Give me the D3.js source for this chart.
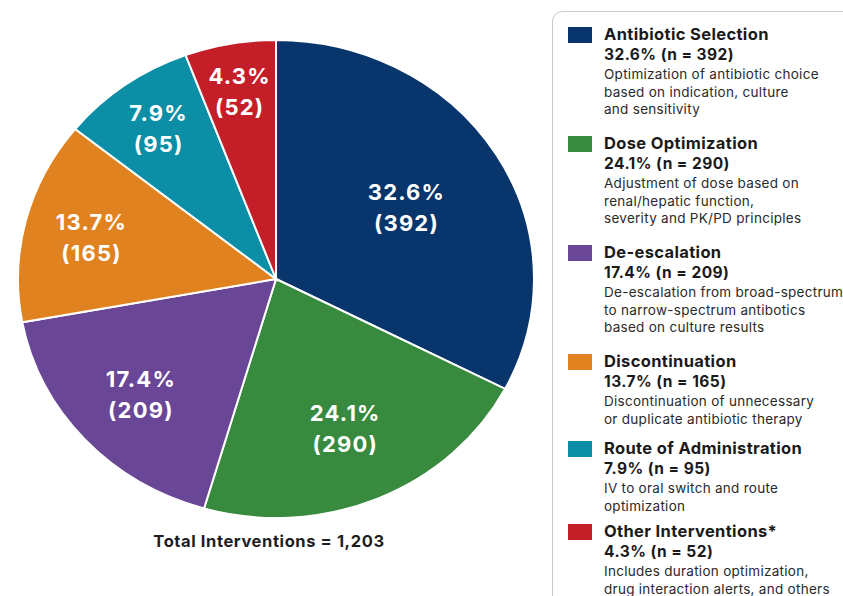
<!DOCTYPE html>
<html>
<head>
<meta charset="utf-8">
<script src="https://cdn.jsdelivr.net/npm/d3@7"></script>
<style>
  body { margin: 0; background: #fff; }
  svg { display: block; font-family: Inter, sans-serif; }
</style>
</head>
<body>
<script>
// Chart data
const categories = ["Antibiotic Selection", "Dose Optimization", "De-escalation",
  "Discontinuation", "Route of Administration", "Other Interventions*"];
const counts = [392, 290, 209, 165, 95, 52];
const percents = [32.6, 24.1, 17.4, 13.7, 7.9, 4.3];
// share of the circle each slice takes as drawn in the picture (%)
const sliceShares = [32.6, 21.9, 17.6, 13.7, 8.5, 5.7];
const descriptions = [
  ["Optimization of antibiotic choice", "based on indication, culture", "and sensitivity"],
  ["Adjustment of dose based on", "renal/hepatic function,", "severity and PK/PD principles"],
  ["De-escalation from broad-spectrum", "to narrow-spectrum antibotics", "based on culture results"],
  ["Discontinuation of unnecessary", "or duplicate antibiotic therapy"],
  ["IV to oral switch and route", "optimization"],
  ["Includes duration optimization,", "drug interaction alerts, and others"]
];
const colors = ["#08356b", "#388a3e", "#6a4697", "#e0821f", "#0b8ea6", "#c41f28"];
const totalLabel = "Total Interventions = 1,203";

const width = 843;
const height = 596;
const cx = 276, cy = 279;
const radius = 239;
const stretch = 258 / 239; // picture is slightly wider than tall

const svg = d3.select("body").append("svg")
  .attr("width", width)
  .attr("height", height);

const slices = categories.map((c, i) => ({
  name: c, value: counts[i], pct: percents[i], share: sliceShares[i], color: colors[i]
}));

const pie = d3.pie().value(d => d.share).sort(null);
const arcs = pie(slices);
const arc = d3.arc().innerRadius(0).outerRadius(radius);

// Pie slices
svg.append("g")
  .attr("transform", `translate(${cx},${cy}) scale(${stretch},1)`)
  .selectAll("path")
  .data(arcs)
  .join("path")
  .attr("d", arc)
  .attr("fill", d => d.data.color)
  .attr("stroke", "#fff")
  .attr("stroke-width", 2)
  .attr("vector-effect", "non-scaling-stroke");

// Slice labels: smaller slices sit further out
const labels = svg.append("g")
  .selectAll("text")
  .data(arcs)
  .join("text")
  .attr("transform", d => {
    const a = (d.startAngle + d.endAngle) / 2;
    const r = radius * (0.85 - 0.8 * d.data.share / 100);
    return `translate(${cx + Math.sin(a) * r * stretch + 0.6},${cy - Math.cos(a) * r})`;
  })
  .attr("text-anchor", "middle")
  .attr("fill", "#fff")
  .attr("font-weight", 700)
  .attr("font-size", 22)
  .attr("letter-spacing", 1.2);
labels.append("tspan").attr("x", 0).attr("y", -6).text(d => d.data.pct + "%");
labels.append("tspan").attr("x", 0).attr("y", 25).text(d => `(${d.data.value})`);

svg.append("text")
  .attr("x", 269)
  .attr("y", 547)
  .attr("text-anchor", "middle")
  .attr("font-weight", 700)
  .attr("font-size", 16.5)
  .attr("letter-spacing", 0.6)
  .attr("fill", "#1e1e1e")
  .text(totalLabel);

// Legend panel
svg.append("rect")
  .attr("x", 552.5)
  .attr("y", 11.5)
  .attr("width", 320)
  .attr("height", 620)
  .attr("rx", 10)
  .attr("fill", "#fff")
  .attr("stroke", "#c9c9c9")
  .attr("stroke-width", 1);

const blockGaps = [35, 35, 35, 30.5, 26.5];
let y = 40;
const legend = svg.append("g");
slices.forEach((s, i) => {
  const g = legend.append("g").attr("transform", `translate(0,${y})`);
  g.append("rect")
    .attr("x", 568).attr("y", -13)
    .attr("width", 24).attr("height", 16)
    .attr("fill", s.color);
  g.append("text")
    .attr("x", 604).attr("y", 0)
    .attr("font-size", 16.5).attr("font-weight", 700).attr("fill", "#1a1a1a")
    .attr("letter-spacing", 0.35)
    .text(s.name);
  g.append("text")
    .attr("x", 604).attr("y", 20)
    .attr("font-size", 15.5).attr("font-weight", 700).attr("fill", "#1a1a1a")
    .attr("letter-spacing", 0.45)
    .text(`${s.pct}% (n = ${s.value})`);
  descriptions[i].forEach((line, j) => {
    g.append("text")
      .attr("x", 604).attr("y", 39 + j * 17.5)
      .attr("font-size", 13.5).attr("fill", "#2a2a2a")
      .attr("letter-spacing", 0.28)
      .text(line);
  });
  y += 39 + (descriptions[i].length - 1) * 17.5 + (blockGaps[i] || 0);
});
</script>
</body>
</html>
